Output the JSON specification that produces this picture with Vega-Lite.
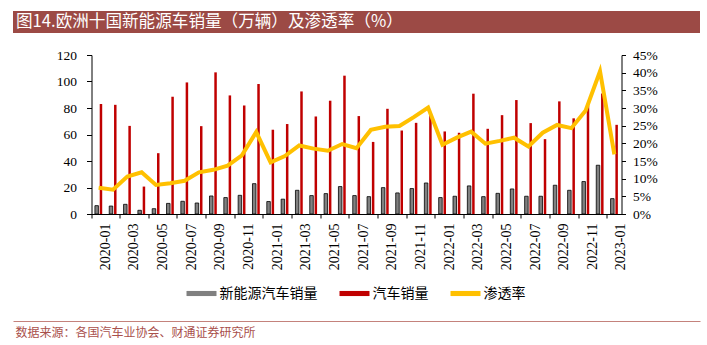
{
  "$schema": "https://vega.github.io/schema/vega-lite/v6.json",
  "padding": {"left": 13, "top": 11, "right": 7, "bottom": 0},
  "background": "white",
  "config": {"view": {"stroke": null}, "font": "Liberation Serif"},
  "datasets": {
    "sales": [
      {"month": "2020-01", "nev": 6.3, "total": 83.0, "rate": 7.4},
      {"month": "2020-02", "nev": 6.0, "total": 82.4, "rate": 6.9},
      {"month": "2020-03", "nev": 7.3, "total": 66.5, "rate": 10.6},
      {"month": "2020-04", "nev": 2.8, "total": 20.7, "rate": 11.8},
      {"month": "2020-05", "nev": 4.0, "total": 45.9, "rate": 8.2},
      {"month": "2020-06", "nev": 8.0, "total": 88.5, "rate": 8.7},
      {"month": "2020-07", "nev": 9.6, "total": 99.3, "rate": 9.4},
      {"month": "2020-08", "nev": 8.3, "total": 66.3, "rate": 11.8},
      {"month": "2020-09", "nev": 13.6, "total": 106.9, "rate": 12.5},
      {"month": "2020-10", "nev": 12.4, "total": 89.5, "rate": 13.7},
      {"month": "2020-11", "nev": 14.1, "total": 81.9, "rate": 16.6},
      {"month": "2020-12", "nev": 22.9, "total": 98.1, "rate": 23.2},
      {"month": "2021-01", "nev": 9.4, "total": 63.6, "rate": 14.6},
      {"month": "2021-02", "nev": 11.2, "total": 67.9, "rate": 16.4},
      {"month": "2021-03", "nev": 17.9, "total": 92.5, "rate": 19.4},
      {"month": "2021-04", "nev": 13.9, "total": 73.6, "rate": 18.5},
      {"month": "2021-05", "nev": 15.4, "total": 85.5, "rate": 17.9},
      {"month": "2021-06", "nev": 20.7, "total": 104.4, "rate": 19.8},
      {"month": "2021-07", "nev": 13.9, "total": 73.9, "rate": 18.6},
      {"month": "2021-08", "nev": 13.1, "total": 54.4, "rate": 23.8},
      {"month": "2021-09", "nev": 19.9, "total": 79.4, "rate": 24.7},
      {"month": "2021-10", "nev": 15.9, "total": 63.0, "rate": 24.9},
      {"month": "2021-11", "nev": 19.2, "total": 68.8, "rate": 27.4},
      {"month": "2021-12", "nev": 23.4, "total": 76.5, "rate": 30.1},
      {"month": "2022-01", "nev": 12.4, "total": 62.3, "rate": 19.6},
      {"month": "2022-02", "nev": 13.4, "total": 61.3, "rate": 21.6},
      {"month": "2022-03", "nev": 21.2, "total": 90.8, "rate": 23.3},
      {"month": "2022-04", "nev": 13.1, "total": 64.3, "rate": 19.9},
      {"month": "2022-05", "nev": 15.6, "total": 74.6, "rate": 20.7},
      {"month": "2022-06", "nev": 18.9, "total": 86.0, "rate": 21.6},
      {"month": "2022-07", "nev": 13.4, "total": 68.6, "rate": 19.1},
      {"month": "2022-08", "nev": 13.4, "total": 56.5, "rate": 23.0},
      {"month": "2022-09", "nev": 21.7, "total": 85.0, "rate": 25.2},
      {"month": "2022-10", "nev": 17.9, "total": 72.2, "rate": 24.3},
      {"month": "2022-11", "nev": 24.5, "total": 82.0, "rate": 29.3},
      {"month": "2022-12", "nev": 36.8, "total": 91.0, "rate": 40.4},
      {"month": "2023-01", "nev": 11.6, "total": 67.3, "rate": 16.9}
    ]
  },
  "spacing": 22,
  "bounds": "flush",
  "center": true,
  "resolve": {"scale": {"color": "independent"}, "legend": {"color": "independent"}},
  "vconcat": [
    {
      "width": 687,
      "height": 22,
      "view": {"fill": "#9C4A45", "stroke": null},
      "data": {"values": [{"t": "图14.欧洲十国新能源车销量（万辆）及渗透率（%）"}]},
      "mark": {"type": "text", "align": "left", "baseline": "middle", "dx": 3, "font": "Noto Sans CJK SC", "fontSize": 16.6, "color": "#FFFFFF"},
      "encoding": {
        "x": {"datum": 0, "type": "quantitative", "scale": {"domain": [0, 1]}, "axis": null},
        "text": {"field": "t", "type": "nominal"}
      }
    },
    {
      "width": 530,
      "height": 159,
      "data": {"name": "sales"},
      "encoding": {
        "x": {
          "field": "month",
          "type": "ordinal",
          "scale": {"paddingInner": 0, "paddingOuter": 0},
          "axis": {
            "title": null,
            "values": ["2020-01", "2020-03", "2020-05", "2020-07", "2020-09", "2020-11", "2021-01", "2021-03", "2021-05", "2021-07", "2021-09", "2021-11", "2022-01", "2022-03", "2022-05", "2022-07", "2022-09", "2022-11", "2023-01"],
            "bandPosition": 0,
            "labelOffset": 7.15,
            "labelAngle": -90,
            "labelOverlap": false,
            "tickSize": 4,
            "labelPadding": 5,
            "labelFont": "Liberation Serif",
            "labelFontSize": 14,
            "labelColor": "#000000",
            "domainColor": "#000000",
            "tickColor": "#000000",
            "grid": false
          }
        }
      },
      "layer": [
        {
          "layer": [
            {
              "mark": {"type": "bar", "width": 3.5, "xOffset": -2, "stroke": "#000000", "strokeWidth": 0.8},
              "encoding": {
                "y": {
                  "field": "nev",
                  "type": "quantitative",
                  "scale": {"domain": [0, 120], "nice": false},
                  "axis": {
                    "orient": "left",
                    "title": null,
                    "values": [0, 20, 40, 60, 80, 100, 120],
                    "labelOverlap": false,
                    "grid": false,
                    "tickSize": 5,
                    "labelPadding": 10,
                    "labelFont": "Liberation Serif",
                    "labelFontSize": 13.5,
                    "labelColor": "#000000",
                    "domainColor": "#000000",
                    "tickColor": "#000000"
                  }
                },
                "color": {
                  "datum": "新能源汽车销量",
                  "type": "nominal",
                  "scale": {"domain": ["新能源汽车销量", "汽车销量", "渗透率"], "range": ["#808080", "#C00000", "#FFC000"]},
                  "legend": {
                    "orient": "none",
                    "legendX": 95,
                    "legendY": 223.5,
                    "direction": "horizontal",
                    "title": null,
                    "labelFont": "Noto Sans CJK SC",
                    "labelFontSize": 14,
                    "labelColor": "#000000",
                    "symbolType": "M-1,-0.17H1V0.17H-1Z",
                    "symbolSize": 900,
                    "symbolStrokeWidth": 0,
                    "symbolOpacity": 1,
                    "labelOffset": 3,
                    "columnPadding": 22
                  }
                }
              }
            },
            {
              "mark": {"type": "bar", "width": 2.5, "xOffset": 2.3},
              "encoding": {
                "y": {
                  "field": "total",
                  "type": "quantitative",
                  "axis": {
                    "orient": "left",
                    "title": null,
                    "values": [0, 20, 40, 60, 80, 100, 120],
                    "labelOverlap": false,
                    "grid": false,
                    "tickSize": 5,
                    "labelPadding": 10,
                    "labelFont": "Liberation Serif",
                    "labelFontSize": 13.5,
                    "labelColor": "#000000",
                    "domainColor": "#000000",
                    "tickColor": "#000000"
                  }
                },
                "color": {"datum": "汽车销量", "type": "nominal"}
              }
            }
          ]
        },
        {
          "mark": {"type": "line", "strokeWidth": 4},
          "encoding": {
            "y": {
              "field": "rate",
              "type": "quantitative",
              "scale": {"domain": [0, 45], "nice": false},
              "axis": {
                "orient": "right",
                "title": null,
                "values": [0, 5, 10, 15, 20, 25, 30, 35, 40, 45],
                "labelExpr": "datum.value + '%'",
                "labelOverlap": false,
                "grid": false,
                "tickSize": 4,
                "labelPadding": 7,
                "labelFont": "Liberation Serif",
                "labelFontSize": 13.5,
                "labelColor": "#000000",
                "domainColor": "#000000",
                "tickColor": "#000000"
              }
            },
            "color": {"datum": "渗透率", "type": "nominal"}
          }
        }
      ],
      "resolve": {"scale": {"y": "independent"}}
    },
    {
      "width": 687,
      "height": 85,
      "view": {"fill": null, "stroke": null},
      "data": {"values": [{"v": 0}]},
      "mark": {"type": "rule", "opacity": 0},
      "encoding": {
        "x": {
          "field": "v",
          "type": "quantitative",
          "scale": {"domain": [0, 1]},
          "axis": {
            "orient": "bottom",
            "ticks": false,
            "labels": false,
            "grid": false,
            "domainColor": "#C4827C",
            "domainWidth": 1,
            "title": "数据来源：各国汽车业协会、财通证券研究所",
            "titleAnchor": "start",
            "titlePadding": 6,
            "titleX": 2,
            "titleAlign": "left",
            "titleFont": "Noto Sans CJK SC",
            "titleFontSize": 12,
            "titleFontWeight": "normal",
            "titleColor": "#A9504B"
          }
        }
      }
    }
  ]
}
